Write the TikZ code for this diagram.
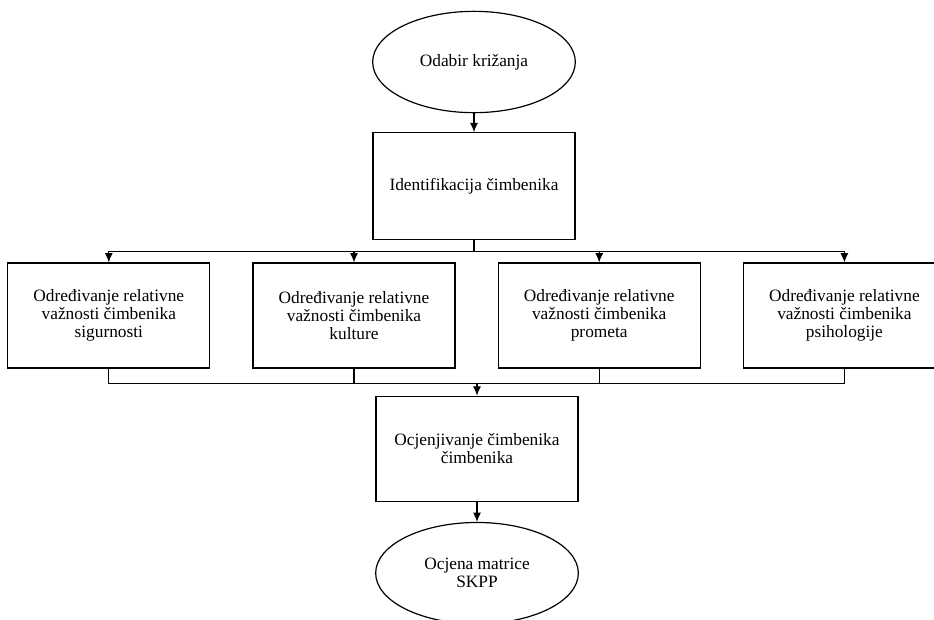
\documentclass[tikz,border=0pt]{standalone}
\usepackage{fontspec}
\setmainfont{Liberation Serif}
\usepackage{tikz}
\usetikzlibrary{shapes.geometric, arrows, arrows.meta, positioning}

\begin{document}
\begin{tikzpicture}[line width=0.9pt]
\tikzstyle{term} = [ellipse, draw, minimum width=152pt, minimum height=76pt, inner sep=0pt, align=center, font=\fontsize{13}{13.5}\selectfont]
\tikzstyle{box} = [rectangle, draw, minimum width=151.5pt, minimum height=78.75pt, align=center, font=\fontsize{13}{13.5}\selectfont]
\tikzstyle{arrow} = [-{Latex[length=7pt, width=6pt]}]

\useasboundingbox (0,0) rectangle (700.5pt,-464.25pt);

\node (start) [term] at (355.5pt,-46.5pt) {Odabir križanja};
\node (ident) [box, minimum height=80.25pt, below=14.25pt of start] {Identifikacija čimbenika};

\node (odr2) [box, below=16.5pt of ident, xshift=-90pt] {Određivanje relativne\\važnosti čimbenika\\kulture};
\node (odr1) [box, left=31.5pt of odr2] {Određivanje relativne\\važnosti čimbenika\\sigurnosti};
\node (odr3) [box, right=31.5pt of odr2] {Određivanje relativne\\važnosti čimbenika\\prometa};
\node (odr4) [box, right=31.5pt of odr3] {Određivanje relativne\\važnosti čimbenika\\psihologije};

\node (ocj) [box, below=20.25pt of odr2, xshift=92.25pt] {Ocjenjivanje čimbenika\\čimbenika};
\node (end) [term, below=15pt of ocj] {Ocjena matrice\\SKPP};

\path (ident.south) ++(0,-8.25pt) coordinate (split);
\path (odr1.south) ++(0,-11.25pt) coordinate (merge);

\draw [arrow] (start) -- (ident);
\draw (ident) -- (split);
\draw [arrow] (split) -| (odr1);
\draw [arrow] (split) -| (odr2);
\draw [arrow] (split) -| (odr3);
\draw [arrow] (split) -| (odr4);

\draw (odr1.south) |- (odr4.south |- merge) -- (odr4.south);
\draw (odr2.south) -- (odr2.south |- merge);
\draw (odr3.south) -- (odr3.south |- merge);
\draw [arrow] (ocj.north |- merge) -- (ocj);
\draw [arrow] (ocj) -- (end);

\end{tikzpicture}
\end{document}
